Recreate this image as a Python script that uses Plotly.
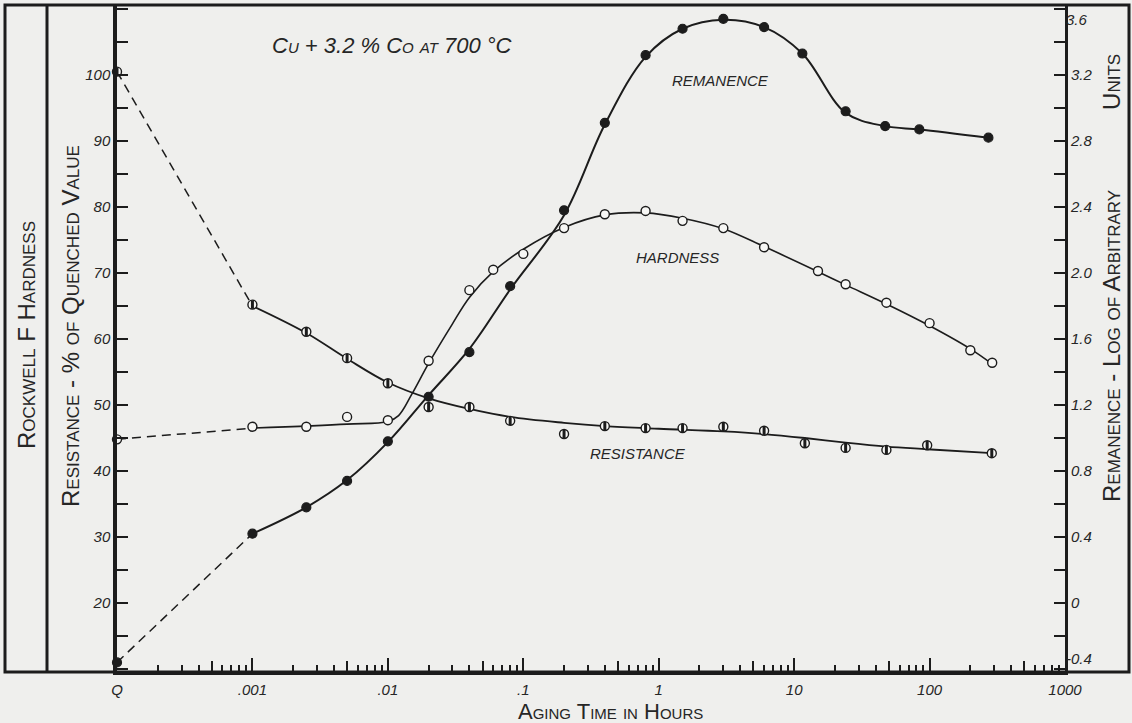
import numpy as np
import plotly.graph_objects as go

# ---------------- data ----------------
Q_POS = 1e-4  # plotting position of the "Q" (as-quenched) state on the log axis

x_tickvals = [1e-4, 1e-3, 1e-2, 1e-1, 1, 10, 100, 1000]
x_ticktext = ["Q", ".001", ".01", ".1", "1", "10", "100", "1000"]

left_tickvals = [20, 30, 40, 50, 60, 70, 80, 90, 100]
left_ticktext = ["20", "30", "40", "50", "60", "70", "80", "90", "100"]

right_tickvals = [-0.4, 0, 0.4, 0.8, 1.2, 1.6, 2.0, 2.4, 2.8, 3.2, 3.6]
right_ticktext = ["-0.4", "0", "0.4", "0.8", "1.2", "1.6", "2.0", "2.4", "2.8", "3.2", "3.6"]

# Resistance - % of quenched value (left axis)
res_hours = [Q_POS, 0.001, 0.0025, 0.005, 0.01, 0.02, 0.04, 0.08, 0.2, 0.4, 0.8,
             1.5, 3, 6, 12, 24, 48, 96, 288]
res_pct = [100.5, 65.2, 61.1, 57.1, 53.3, 49.7, 49.7, 47.6, 45.6, 46.8, 46.5,
           46.5, 46.7, 46.1, 44.2, 43.5, 43.2, 43.9, 42.7]
res_curve_hours = [0.001, 0.0025, 0.005, 0.01, 0.02, 0.04, 0.08, 0.2, 0.4, 1, 3,
                   6, 12, 24, 48, 96, 288]
res_curve_pct = [65.0, 60.9, 57.0, 53.4, 51.0, 49.4, 48.2, 47.3, 46.8, 46.4, 46.0,
                 45.6, 45.0, 44.3, 43.7, 43.3, 42.7]

# Rockwell F hardness (plotted on the left scale)
hard_hours = [Q_POS, 0.001, 0.0025, 0.005, 0.01, 0.02, 0.04, 0.06, 0.1, 0.2, 0.4,
              0.8, 1.5, 3, 6, 15, 24, 48, 100, 200, 290]
hard_vals = [44.8, 46.7, 46.7, 48.2, 47.7, 56.7, 67.4, 70.5, 72.9, 76.8, 78.9,
             79.4, 77.9, 76.8, 73.9, 70.3, 68.3, 65.5, 62.4, 58.3, 56.4]
hard_curve_hours = [0.001, 0.005, 0.01, 0.012, 0.015, 0.02, 0.03, 0.04, 0.06, 0.1,
                    0.2, 0.4, 0.8, 1.5, 3, 6, 15, 24, 48, 100, 200, 290]
hard_curve_vals = [46.5, 47.1, 47.5, 48.4, 51.6, 56.3, 62.3, 66.3, 70.2, 73.6,
                   76.9, 78.8, 79.1, 78.3, 76.7, 74.0, 70.2, 68.2, 65.3, 62.0, 58.5, 56.2]

# Remanence - log of arbitrary units (right axis)
rem_hours = [Q_POS, 0.001, 0.0025, 0.005, 0.01, 0.02, 0.04, 0.08, 0.2, 0.4, 0.8,
             1.5, 3, 6, 11.5, 24, 47, 84, 272]
rem_vals = [-0.36, 0.42, 0.58, 0.74, 0.98, 1.25, 1.52, 1.92, 2.38, 2.91, 3.32,
            3.48, 3.54, 3.49, 3.33, 2.98, 2.89, 2.87, 2.82]
rem_curve_hours = [0.001, 0.0025, 0.005, 0.01, 0.02, 0.04, 0.08, 0.2, 0.4, 0.8,
                   1.5, 3, 6, 11.5, 24, 47, 84, 272]
rem_curve_vals = [0.42, 0.58, 0.745, 0.975, 1.26, 1.54, 1.9, 2.35, 2.9, 3.31,
                  3.48, 3.535, 3.49, 3.33, 2.97, 2.89, 2.87, 2.82]

# ---------------- styling ----------------
W, H = 1132, 723
ML, MR, MT, MB = 117, 67, 5, 51
BG = "#efefed"
INK = "#1c1c1c"
TXT = "#262626"
FONT = "Liberation Sans"

LEFT_RANGE = [9.55, 110.6]
# right scale: 3.2 aligns with 100, -0.4 aligns with 10 on the left scale
def left_to_right(v):
    return -0.4 + (v - 10) * 0.04
RIGHT_RANGE = [left_to_right(LEFT_RANGE[0]), left_to_right(LEFT_RANGE[1])]

decades = range(-4, 3)
minor_x = [m * 10.0 ** e for e in decades for m in (2, 3, 4, 6, 7, 8, 9)]
five_x = [5 * 10.0 ** e for e in decades]

fig = go.Figure()

def add_lines(hours, vals, c_hours, c_vals, yaxis, lw):
    # dashed link from the quenched state to the first aged value
    fig.add_trace(go.Scatter(x=[hours[0], c_hours[0]], y=[vals[0], c_vals[0]],
                             mode="lines", yaxis=yaxis, cliponaxis=False,
                             line=dict(color=INK, width=1.5, dash="9px,6px"),
                             hoverinfo="skip"))
    # smooth drawn curve
    fig.add_trace(go.Scatter(x=c_hours, y=c_vals, mode="lines", yaxis=yaxis,
                             line=dict(color=INK, width=lw, shape="spline", smoothing=1.0),
                             hoverinfo="skip"))

add_lines(res_hours, res_pct, res_curve_hours, res_curve_pct, "y", 1.8)
add_lines(hard_hours, hard_vals, hard_curve_hours, hard_curve_vals, "y", 1.6)
add_lines(rem_hours, rem_vals, rem_curve_hours, rem_curve_vals, "y2", 2.0)

# measured points
# resistance: half-filled circles (white disc with a dark centre bar)
fig.add_trace(go.Scatter(x=res_hours, y=res_pct, mode="markers", yaxis="y",
                         cliponaxis=False,
                         marker=dict(symbol="circle", size=9, color="#f7f7f5",
                                     line=dict(color=INK, width=1.4))))
fig.add_trace(go.Scatter(x=res_hours, y=res_pct, mode="markers", yaxis="y",
                         cliponaxis=False,
                         marker=dict(symbol="line-ns", size=6,
                                     line=dict(color=INK, width=3))))
fig.add_trace(go.Scatter(x=hard_hours, y=hard_vals, mode="markers", yaxis="y",
                         cliponaxis=False,
                         marker=dict(symbol="circle", size=9, color="#f7f7f5",
                                     line=dict(color=INK, width=1.4))))
fig.add_trace(go.Scatter(x=rem_hours, y=rem_vals, mode="markers", yaxis="y2",
                         cliponaxis=False,
                         marker=dict(symbol="circle", size=9, color=INK,
                                     line=dict(color=INK, width=1.2))))

# empty traces so the helper tick axes are instantiated
fig.add_trace(go.Scatter(x=[], y=[], xaxis="x2", yaxis="y3", hoverinfo="skip"))
fig.add_trace(go.Scatter(x=[], y=[], xaxis="x", yaxis="y4", hoverinfo="skip"))

tickfont = dict(family=FONT, size=15, color=TXT, style="italic")
titlefont = dict(family=FONT, size=24, color=TXT, variant="small-caps")

fig.update_layout(
    width=W, height=H,
    margin=dict(l=ML, r=MR, t=MT, b=MB),
    paper_bgcolor=BG, plot_bgcolor=BG,
    showlegend=False,
    xaxis=dict(type="log", range=[-4, 3], tickmode="array",
               tickvals=x_tickvals, ticktext=x_ticktext,
               ticks="inside", ticklen=14, tickwidth=1.5, tickcolor=INK,
               showline=True, linewidth=3, linecolor=INK,
               showgrid=False, zeroline=False, tickfont=tickfont,
               ticklabelstandoff=2,
               minor=dict(tickmode="array", tickvals=minor_x, ticks="inside",
                          ticklen=7, tickwidth=1.5, tickcolor=INK, showgrid=False)),
    xaxis2=dict(type="log", range=[-4, 3], overlaying="x", anchor="y", side="bottom",
                tickmode="array", tickvals=five_x, ticks="inside", ticklen=11,
                tickwidth=1.5, tickcolor=INK, showticklabels=False,
                showline=False, showgrid=False, zeroline=False),
    yaxis=dict(range=LEFT_RANGE, tickmode="array", tickvals=left_tickvals,
               ticktext=left_ticktext, ticks="inside", ticklen=11, tickwidth=1.5,
               tickcolor=INK, showline=True, linewidth=3.5, linecolor=INK,
               showgrid=False, zeroline=False, tickfont=tickfont,
               minor=dict(tickmode="linear", tick0=0, dtick=5, ticks="inside",
                          ticklen=11, tickwidth=1.5, tickcolor=INK, showgrid=False)),
    yaxis2=dict(range=RIGHT_RANGE, overlaying="y", side="right", anchor="x",
                tickmode="array", tickvals=right_tickvals,
                ticktext=[""] + right_ticktext[1:-1] + [""],
                ticks="inside", ticklen=11, tickwidth=1.5, tickcolor=INK,
                showline=True, linewidth=3, linecolor=INK,
                showgrid=False, zeroline=False, tickfont=tickfont,
                minor=dict(tickmode="linear", tick0=0, dtick=0.2, ticks="inside",
                           ticklen=11, tickwidth=1.5, tickcolor=INK, showgrid=False)),
    yaxis3=dict(range=RIGHT_RANGE, overlaying="y", side="right", anchor="x",
                tickmode="array", tickvals=[right_tickvals[-1]],
                ticktext=[right_ticktext[-1]], ticks="",
                ticklabelposition="outside bottom",
                showline=False, showgrid=False, zeroline=False, tickfont=tickfont),
    yaxis4=dict(range=RIGHT_RANGE, overlaying="y", side="right", anchor="x",
                tickmode="array", tickvals=[right_tickvals[0]],
                ticktext=[right_ticktext[0]], ticks="",
                ticklabelposition="outside top",
                showline=False, showgrid=False, zeroline=False, tickfont=tickfont),
)

PW = W - ML - MR
PH = H - MT - MB
def px_x(p):
    return (p - ML) / PW
def px_y(p):
    return (H - MB - p) / PH

# frame around the whole drawing and the separator of the hardness strip
fig.add_shape(type="rect", xref="paper", yref="paper",
              x0=px_x(5), x1=px_x(1129), y0=0, y1=1,
              line=dict(color=INK, width=3), fillcolor="rgba(0,0,0,0)")
fig.add_shape(type="line", xref="paper", yref="paper",
              x0=px_x(47), x1=px_x(47), y0=0, y1=1,
              line=dict(color=INK, width=3))

labelfont = dict(family=FONT, size=15, color=TXT, style="italic")
# titles
fig.add_annotation(text="Cu + 3.2 % Co at 700 °C", xref="x", yref="y",
                   x=-1.969, y=104.4, showarrow=False,
                   xanchor="center", yanchor="middle",
                   font=dict(family=FONT, size=22, color=TXT, style="italic",
                             variant="small-caps"))
for txt, lx, ly in [("REMANENCE", 0.4525, 99.2), ("HARDNESS", 0.135, 72.4),
                    ("RESISTANCE", -0.153, 42.7)]:
    fig.add_annotation(text=txt, xref="x", yref="y", x=lx, y=ly,
                       xanchor="center", yanchor="middle",
                       showarrow=False, font=labelfont)

fig.add_annotation(text="Aging Time in Hours", xref="paper", yref="paper",
                   x=px_x(610), y=px_y(711), xanchor="center", yanchor="middle",
                   showarrow=False,
                   font=dict(family=FONT, size=22, color=TXT, variant="small-caps"))
fig.add_annotation(text="Resistance - % of Quenched Value", xref="paper", yref="paper",
                   x=px_x(70), y=px_y(326), textangle=-90, showarrow=False,
                   xanchor="center", yanchor="middle", font=titlefont)
fig.add_annotation(text="Rockwell F Hardness", xref="paper", yref="paper",
                   x=px_x(27), y=px_y(335), textangle=-90, showarrow=False,
                   xanchor="center", yanchor="middle", font=titlefont)
fig.add_annotation(text="Remanence - Log of Arbitrary" + "\u00a0" * 11 + " Units",
                   xref="paper", yref="paper",
                   x=px_x(1111), y=px_y(278), textangle=-90, showarrow=False,
                   xanchor="center", yanchor="middle", font=titlefont)

fig.write_html("out.html")
